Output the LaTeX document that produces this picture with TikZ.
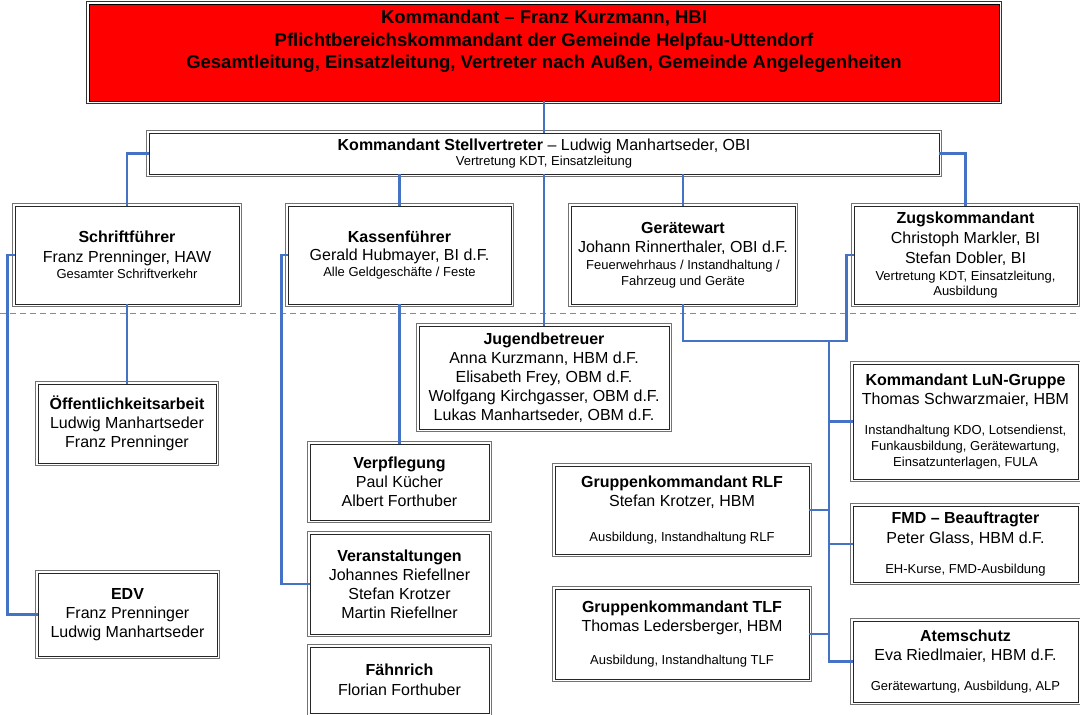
\documentclass[tikz,border=0pt]{standalone}
\usepackage{fontspec}
\setmainfont{Liberation Sans}
\definecolor{conn}{HTML}{4472C4}
\definecolor{dashc}{HTML}{6A8DD0}
\definecolor{kred}{HTML}{FF0000}
\newcommand\nmf{\fontsize{16}{19}\selectfont}
\newcommand\smf{\fontsize{13}{16}\selectfont}
\newcommand\tpf{\fontsize{18.5}{22.5}\selectfont}
\begin{document}
\begin{tikzpicture}[x=1pt,y=-1pt,
  box/.style={draw=black!85, line width=0.9pt,
    fill=white, inner sep=0pt, align=center, font=\nmf},
  kbox/.style={box, draw=black, fill=kred, font=\tpf\bfseries},
  outerline/.style={draw=black!55, line width=1.2pt},
  kouterline/.style={draw=black!80, line width=1.2pt},
  link/.style={draw=conn, line width=2.5pt},
  sepline/.style={draw=dashc, line width=1pt, dash pattern=on 6pt off 4pt}]
\useasboundingbox (0,0) rectangle (1080,715);

% separator
\coordinate (sl) at (0,313);
\coordinate (sr) at (1080,313);
\draw[sepline] (sl) -- (sr);

% boxes
\node[kbox, minimum width=910pt, minimum height=97pt] (kdt) at (544,52.5)
  {Kommandant -- Franz Kurzmann, HBI\\Pflichtbereichskommandant der Gemeinde Helpfau-Uttendorf\\Gesamtleitung, Einsatzleitung, Vertreter nach Außen, Gemeinde Angelegenheiten\\[3.5pt]\mbox{}};

\node[box, minimum width=790pt, minimum height=41pt] (stv) at (544,153.5)
  {{\bfseries Kommandant Stellvertreter} -- Ludwig Manhartseder, OBI\\[-3.8pt]{\smf Vertretung KDT, Einsatzleitung}};

\node[box, minimum width=224pt, minimum height=98pt] (schrift) at (127,255)
  {{\bfseries Schriftführer}\\[1pt]Franz Prenninger, HAW\\[-2.8pt]{\smf Gesamter Schriftverkehr}};

\node[box, minimum width=223pt, minimum height=98pt] (kasse) at (399.5,255)
  {{\bfseries Kassenführer}\\[-1pt]Gerald Hubmayer, BI d.F.\\[-2.8pt]{\smf Alle Geldgeschäfte / Feste}};

\node[box, minimum width=224pt, minimum height=98pt] (geraet) at (683,255)
  {{\bfseries Gerätewart}\\Johann Rinnerthaler, OBI d.F.\\[-1.8pt]{\smf Feuerwehrhaus / Instandhaltung /}\\[-3pt]{\smf Fahrzeug und Geräte}};

\node[box, minimum width=223pt, minimum height=98pt] (zugs) at (965.5,255)
  {{\bfseries Zugskommandant}\\[1pt]Christoph Markler, BI\\[1pt]Stefan Dobler, BI\\[-2.8pt]{\smf Vertretung KDT, Einsatzleitung,}\\[-4pt]{\smf Ausbildung}};

\node[box, minimum width=250pt, minimum height=103pt] (jugend) at (544,377.5)
  {{\bfseries Jugendbetreuer}\\Anna Kurzmann, HBM d.F.\\Elisabeth Frey, OBM d.F.\\Wolfgang Kirchgasser, OBM d.F.\\Lukas Manhartseder, OBM d.F.};

\node[box, minimum width=178pt, minimum height=79pt] (oeff) at (127,423.5)
  {{\bfseries Öffentlichkeitsarbeit}\\Ludwig Manhartseder\\Franz Prenninger};

\node[box, minimum width=179pt, minimum height=76pt] (verpf) at (399.5,482)
  {{\bfseries Verpflegung}\\Paul Kücher\\Albert Forthuber};

\node[box, minimum width=179pt, minimum height=100pt] (veranst) at (399.5,584)
  {{\bfseries Veranstaltungen}\\Johannes Riefellner\\Stefan Krotzer\\Martin Riefellner};

\node[box, minimum width=179pt, minimum height=66pt] (faehn) at (399.5,680)
  {{\bfseries Fähnrich}\\[1pt]Florian Forthuber};

\node[box, minimum width=179pt, minimum height=83pt] (edv) at (127.5,614.5)
  {{\bfseries EDV}\\Franz Prenninger\\Ludwig Manhartseder};

\node[box, minimum width=225pt, minimum height=115pt] (lun) at (965.5,421.5)
  {{\bfseries Kommandant LuN-Gruppe}\\Thomas Schwarzmaier, HBM\\[10.2pt]{\smf Instandhaltung KDO, Lotsendienst,}\\[-3pt]{\smf Funkausbildung, Gerätewartung,}\\[-3pt]{\smf Einsatzunterlagen, FULA}};

\node[box, minimum width=254pt, minimum height=88pt] (rlf) at (682,510)
  {{\bfseries Gruppenkommandant RLF}\\Stefan Krotzer, HBM\\[16.2pt]{\smf Ausbildung, Instandhaltung RLF}};

\node[box, minimum width=225pt, minimum height=76pt] (fmd) at (965.5,544)
  {{\bfseries FMD -- Beauftragter}\\[1pt]Peter Glass, HBM d.F.\\[10.2pt]{\smf EH-Kurse, FMD-Ausbildung}};

\node[box, minimum width=254pt, minimum height=90pt] (tlf) at (682,634)
  {{\bfseries Gruppenkommandant TLF}\\Thomas Ledersberger, HBM\\[13.2pt]{\smf Ausbildung, Instandhaltung TLF}};

\node[box, minimum width=225pt, minimum height=81pt] (atem) at (965.5,661.5)
  {{\bfseries Atemschutz}\\Eva Riedlmaier, HBM d.F.\\[10.2pt]{\smf Gerätewartung, Ausbildung, ALP}};

% outer frame lines of the double borders
\draw[kouterline] ([shift={(-2.2,-2.2)}]kdt.north west) rectangle ([shift={(2.2,2.2)}]kdt.south east);
\foreach \n in {stv,schrift,kasse,geraet,zugs,jugend,oeff,verpf,veranst,faehn,edv,lun,rlf,fmd,tlf,atem}
  \draw[outerline] ([shift={(-2.1,-2.1)}]\n.north west) rectangle ([shift={(2.1,2.1)}]\n.south east);

% connectors
\draw[link] (kdt.south) -- (stv.north);
\draw[link] (stv.west) -| (schrift.north);
\draw[link] (stv.east) -| (zugs.north);
\draw[link] (stv.south -| kasse.north) -- (kasse.north);
\draw[link] (stv.south -| geraet.north) -- (geraet.north);
\draw[link] (stv.south) -- (jugend.north);
\draw[link] (schrift.south) -- (oeff.north);
\draw[link] (kasse.south) -- (verpf.north);
\draw[link] (schrift.west) -- ++(-7,0) |- (edv.west);
\draw[link] (kasse.west) -- ++(-6,0) |- (veranst.west);
\draw[link] (zugs.west) -- ++(-7,0) -- ++(0,86) -| (geraet.south);
\coordinate (bt) at (829,341);
\draw[link] (bt) |- (atem.west);
\draw[link] (lun.west) -- (lun.west -| bt);
\draw[link] (rlf.east) -- (rlf.east -| bt);
\draw[link] (fmd.west) -- (fmd.west -| bt);
\draw[link] (tlf.east) -- (tlf.east -| bt);
\end{tikzpicture}
\end{document}
